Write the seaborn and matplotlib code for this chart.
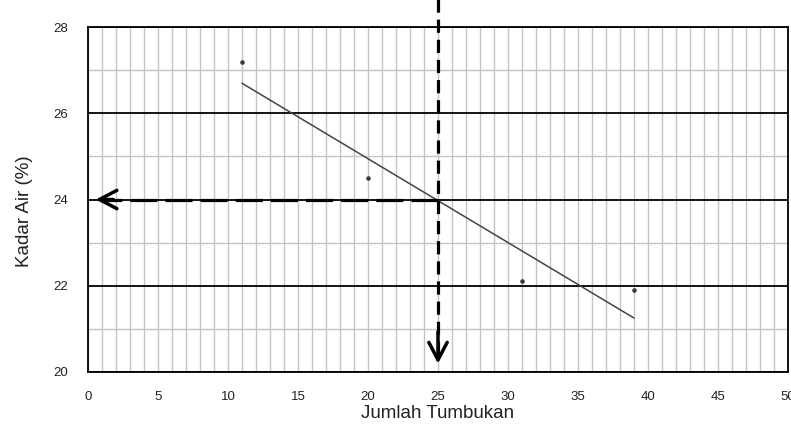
import matplotlib
matplotlib.use("Agg")
import matplotlib.pyplot as plt
import seaborn as sns
import numpy as np
from matplotlib.ticker import MultipleLocator

# Data
jumlah_tumbukan = [11, 20, 31, 39]
kadar_air = [27.2, 24.5, 22.1, 21.9]
x_ticks = [0, 5, 10, 15, 20, 25, 30, 35, 40, 45, 50]
y_ticks = [20, 22, 24, 26, 28]
target_x = 25
target_y = 24

sns.set_theme(style="white")
plt.rcParams['font.family'] = ['Liberation Sans', 'DejaVu Sans']
plt.rcParams['lines.scale_dashes'] = False

fig = plt.figure(figsize=(7.91, 4.30), dpi=100)
ax = fig.add_axes([88/791, 1-372/430, 700/791, 345/430])

ax.set_xlim(0, 50)
ax.set_ylim(20, 28)
ax.set_xticks(x_ticks)
ax.set_yticks(y_ticks)
ax.xaxis.set_minor_locator(MultipleLocator(1))
ax.yaxis.set_minor_locator(MultipleLocator(1))

ax.grid(True, which='minor', axis='both', color='#c4c4c4', lw=1.0)
ax.grid(True, which='major', axis='x', color='#c4c4c4', lw=1.0)
ax.grid(True, which='major', axis='y', color='black', lw=1.3)
ax.set_axisbelow(True)

for s in ax.spines.values():
    s.set_color('black')
    s.set_linewidth(1.3)
    s.set_visible(True)

ax.tick_params(axis='both', which='major', direction='out', length=4, width=1,
               color='black', labelsize=9.5, labelcolor='#222222')
ax.tick_params(axis='x', which='major', pad=10)
ax.tick_params(axis='y', which='major', pad=10)
ax.tick_params(which='minor', length=0)

sns.regplot(x=jumlah_tumbukan, y=kadar_air, ax=ax, ci=None, truncate=True,
            marker='o', scatter_kws=dict(s=11, color='#111111', linewidths=0),
            line_kws=dict(color='#444444', lw=1.1))

# Dashed guide lines
ax.plot([target_x, 0.9], [target_y, target_y], color='black', lw=2.3,
        linestyle=(0, (19.5, 5.8)), dash_capstyle='butt')
ax.plot([target_x, target_x], [28.65, 20.35], color='black', lw=2.3,
        linestyle=(0, (9.5, 5)), dash_capstyle='butt', clip_on=False)
ax.annotate('', xy=(0.35, target_y), xytext=(2.0, target_y),
            arrowprops=dict(arrowstyle='->,head_length=1.05,head_width=0.55', color='black', lw=2.5))
ax.annotate('', xy=(target_x, 20.13), xytext=(target_x, 21.0),
            arrowprops=dict(arrowstyle='->,head_length=1.05,head_width=0.55', color='black', lw=2.5))

ax.set_xlabel('Jumlah Tumbukan', fontsize=13.5, color='#222222', labelpad=1)
ax.set_ylabel('Kadar Air (%)', fontsize=13.5, color='#222222')
ax.yaxis.set_label_coords(-0.079, 0.467)

fig.savefig('out.png', dpi=100)
